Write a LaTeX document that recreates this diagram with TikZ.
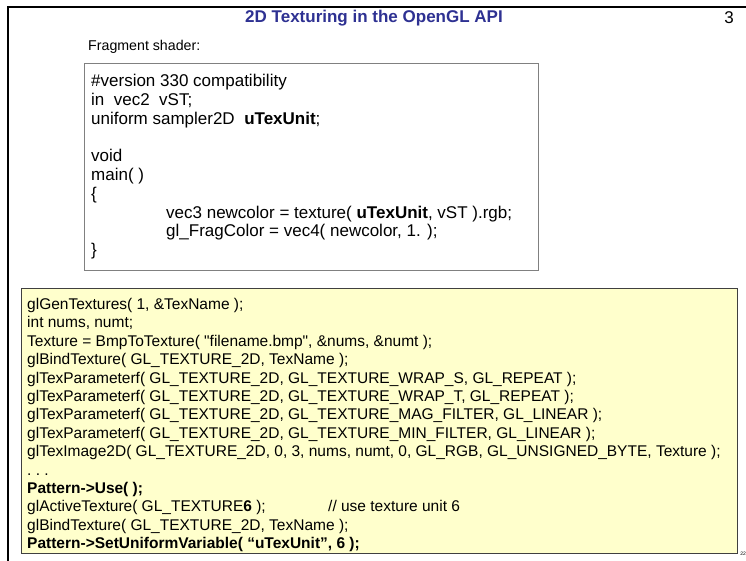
\documentclass[tikz,border=0pt]{standalone}
\usepackage{fontspec}
\setmainfont{Liberation Sans}[Ligatures=TeXOff]
\usetikzlibrary{positioning}

\definecolor{titleblue}{RGB}{46,49,146}
\definecolor{notepad}{RGB}{255,255,204}
\definecolor{boxgray}{RGB}{128,128,128}

\tikzset{
  codetext/.style={anchor=north west, align=left, inner sep=0pt,
    font=\fontsize{15.5}{18.4}\selectfont},
  shaderbox/.style={draw=boxgray, line width=1pt, fill=white, anchor=north west, inner sep=0pt},
  hostbox/.style={draw=black!75, line width=1.3pt, fill=notepad, anchor=north west, inner sep=0pt},
}

\begin{document}
\begin{tikzpicture}[x=1pt,y=-1pt]
  \useasboundingbox (0,0) rectangle (746,561);

  % slide frame and heading
  \coordinate (frameA) at (8,561);
  \coordinate (frameB) at (8,7);
  \coordinate (frameC) at (746,7);
  \draw [line width=2.6pt] (frameA) -- (frameB) -- (frameC);
  \node [text=titleblue, font=\fontsize{17}{20}\bfseries\selectfont] (title) at (374,18) {2D Texturing in the OpenGL API};
  \node [font=\fontsize{17}{20}\selectfont] (pagenum) at (729,18) {3};
  \node [anchor=east, inner sep=0pt, font=\fontsize{5}{6}\selectfont] (footer) at (746,554) {22};

  % fragment shader
  \node [anchor=west, inner sep=0pt, font=\fontsize{14.2}{16}\selectfont] (fraglabel) at (88,47) {Fragment shader:};
  \node [shaderbox, minimum width=454pt, minimum height=207pt] (shader) at (84,63) {};
  \node [codetext, font=\fontsize{17}{18.8}\selectfont] (shadertxt) at (91,74) {%
    \#version 330 compatibility\\
    in\ \ vec2\ \ vST;\\
    uniform sampler2D\ \ \textbf{uTexUnit};\\[18.8pt]
    void\\
    main( )\\
    \{\\
    \hspace*{75pt}vec3 newcolor = texture( \textbf{uTexUnit}, vST ).rgb;\\
    \hspace*{75pt}gl\_FragColor = vec4( newcolor, 1. );\\
    \}};

  % host side code
  \node [hostbox, minimum width=716pt, minimum height=265pt] (host) at (21,288) {};
  \node [codetext] (hosttxt) at (27,298) {%
    glGenTextures( 1, \&TexName );\\
    int nums, numt;\\
    Texture = BmpToTexture( "filename.bmp", \&nums, \&numt );\\
    glBindTexture( GL\_TEXTURE\_2D, TexName );\\
    glTexParameterf( GL\_TEXTURE\_2D, GL\_TEXTURE\_WRAP\_S, GL\_REPEAT );\\
    glTexParameterf( GL\_TEXTURE\_2D, GL\_TEXTURE\_WRAP\_T, GL\_REPEAT );\\
    glTexParameterf( GL\_TEXTURE\_2D, GL\_TEXTURE\_MAG\_FILTER, GL\_LINEAR );\\
    glTexParameterf( GL\_TEXTURE\_2D, GL\_TEXTURE\_MIN\_FILTER, GL\_LINEAR );\\
    glTexImage2D( GL\_TEXTURE\_2D, 0, 3, nums, numt, 0, GL\_RGB, GL\_UNSIGNED\_BYTE, Texture );\\
    .\ .\ .\\
    \textbf{Pattern->Use( );}\\
    \makebox[301pt][l]{glActiveTexture( GL\_TEXTURE\textbf{6} );}// use texture unit 6\\
    glBindTexture( GL\_TEXTURE\_2D, TexName );\\
    \textbf{Pattern->SetUniformVariable( “uTexUnit”, 6 );}};
\end{tikzpicture}
\end{document}
